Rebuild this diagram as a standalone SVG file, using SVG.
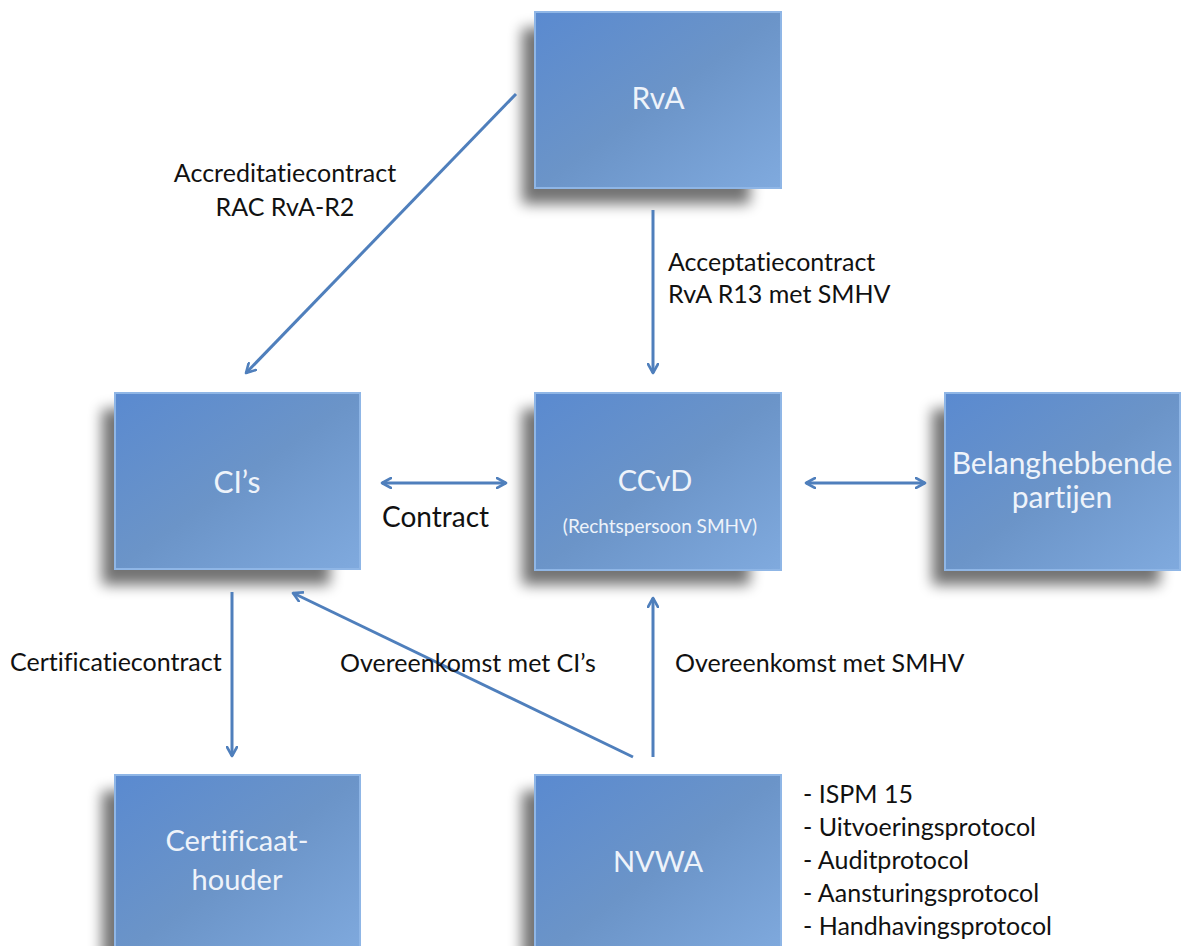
<svg xmlns="http://www.w3.org/2000/svg" width="1185" height="946" viewBox="0 0 1185 946">
<style>
.box{fill:url(#g);stroke:#8fb6e6;stroke-width:2}
.sh{fill:#000;opacity:.55;filter:url(#blur)}
.nt{font-family:Lato,"Open Sans","Liberation Sans",sans-serif;fill:#eef3fa;text-anchor:middle;font-variant-ligatures:none}
.lb{font-family:Lato,"Open Sans","Liberation Sans",sans-serif;fill:#111;font-size:25px;font-variant-ligatures:none}
.cn{stroke:#4f7fbc;stroke-width:3;fill:none}
</style>
<defs>
<linearGradient id="g" x1="0" y1="0" x2="1" y2="1">
<stop offset="0" stop-color="#5a8ad0"/>
<stop offset="0.5" stop-color="#6b94c8"/>
<stop offset="1" stop-color="#80aade"/>
</linearGradient>
<filter id="blur" x="-20%" y="-20%" width="140%" height="140%"><feGaussianBlur stdDeviation="7"/></filter>
<marker id="ah" viewBox="0 0 12 12" refX="10" refY="6" markerWidth="12" markerHeight="12" markerUnits="userSpaceOnUse" orient="auto-start-reverse">
<path d="M1,1 L10,6 L1,11" fill="none" stroke="#4f7fbc" stroke-width="2.6" stroke-linecap="round" stroke-linejoin="round"/>
</marker>
</defs>
<rect width="1185" height="946" fill="#fff"/>

<g id="node-rva">
<rect class="sh" x="522" y="28" width="228" height="176"/>
<rect class="box" x="535" y="12" width="246" height="176"/>
<text class="nt" x="658" y="109" font-size="30">RvA</text>
</g>
<g id="node-cis">
<rect class="sh" x="102" y="409" width="228" height="176"/>
<rect class="box" x="115" y="393" width="245" height="176"/>
<text class="nt" x="237" y="493" font-size="30">CI’s</text>
</g>
<g id="node-ccvd">
<rect class="sh" x="522" y="409" width="228" height="176"/>
<rect class="box" x="535" y="393" width="246" height="177"/>
<text class="nt" x="655" y="491" font-size="29">CCvD</text>
<text class="nt" x="660" y="533" font-size="19">(Rechtspersoon SMHV)</text>
</g>
<g id="node-belang">
<rect class="sh" x="932" y="409" width="228" height="176"/>
<rect class="box" x="945" y="393" width="235" height="177"/>
<text class="nt" x="1062" y="474" font-size="30">Belanghebbende</text>
<text class="nt" x="1062" y="508" font-size="30">partijen</text>
</g>
<g id="node-cert">
<rect class="sh" x="102" y="791" width="228" height="176"/>
<rect class="box" x="115" y="775" width="245" height="185"/>
<text class="nt" x="237" y="851" font-size="29">Certificaat-</text>
<text class="nt" x="237" y="890" font-size="29">houder</text>
</g>
<g id="node-nvwa">
<rect class="sh" x="522" y="791" width="228" height="176"/>
<rect class="box" x="535" y="775" width="246" height="185"/>
<text class="nt" x="658" y="872" font-size="29">NVWA</text>
</g>

<g id="connectors">
<line class="cn" x1="516" y1="94" x2="246" y2="373" marker-end="url(#ah)"/>
<line class="cn" x1="653" y1="210" x2="653" y2="373" marker-end="url(#ah)"/>
<line class="cn" x1="382" y1="483" x2="506" y2="483" marker-start="url(#ah)" marker-end="url(#ah)"/>
<line class="cn" x1="806" y1="483" x2="925" y2="483" marker-start="url(#ah)" marker-end="url(#ah)"/>
<line class="cn" x1="232" y1="592" x2="232" y2="756" marker-end="url(#ah)"/>
<line class="cn" x1="633" y1="757" x2="293" y2="593" marker-end="url(#ah)"/>
<line class="cn" x1="653" y1="757" x2="653" y2="598" marker-end="url(#ah)"/>
</g>

<g id="labels">
<text class="lb" x="285" y="182" text-anchor="middle">Accreditatiecontract</text>
<text class="lb" x="285" y="216" text-anchor="middle">RAC RvA-R2</text>
<text class="lb" x="668" y="271">Acceptatiecontract</text>
<text class="lb" x="668" y="303">RvA R13 met SMHV</text>
<text class="lb" x="382" y="527" style="font-size:28px">Contract</text>
<text class="lb" x="10" y="671">Certificatiecontract</text>
<text class="lb" x="340" y="672">Overeenkomst met CI’s</text>
<text class="lb" x="675" y="672">Overeenkomst met SMHV</text>
<text class="lb" x="803" y="803">- ISPM 15</text>
<text class="lb" x="803" y="836">- Uitvoeringsprotocol</text>
<text class="lb" x="803" y="869">- Auditprotocol</text>
<text class="lb" x="803" y="902">- Aansturingsprotocol</text>
<text class="lb" x="803" y="935">- Handhavingsprotocol</text>
</g>
</svg>
